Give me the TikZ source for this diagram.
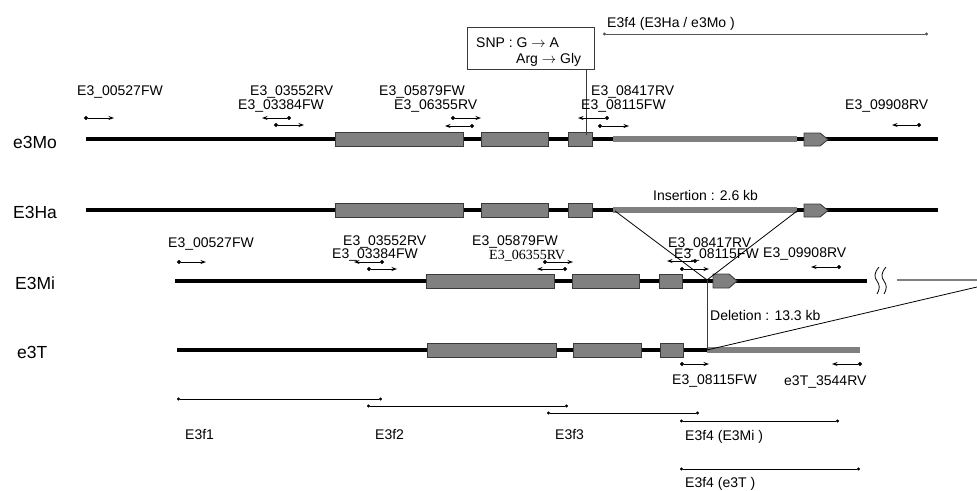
\documentclass[tikz,border=0pt]{standalone}
\usepackage{fontspec}
\setmainfont{Liberation Sans}
\newfontfamily\serifalt{Liberation Serif}
\usetikzlibrary{arrows.meta}

\definecolor{exgray}{HTML}{808080}
\definecolor{exedge}{HTML}{3A3A3A}
\definecolor{ruleg}{HTML}{555555}

\tikzset{
 lbl/.style={anchor=base west, inner sep=0pt, font=\fontsize{14}{16}\selectfont},
 rowname/.style={anchor=base west, inner sep=0pt, font=\fontsize{17.5}{20}\selectfont},
 backbone/.style={line width=4pt, black},
 insbar/.style={line width=6pt, exgray},
 exon/.style={fill=exgray, draw=exedge, line width=0.9pt},
 fwprimer/.style={line width=0.9pt, {Circle[length=4pt]}-{Stealth[length=5.5pt,width=4pt]}},
 rvprimer/.style={line width=0.9pt, {Stealth[length=5.5pt,width=4pt]}-{Circle[length=4pt]}},
 rangeline/.style={line width=0.9pt, {Circle[length=3pt]}-{Circle[length=3pt]}},
 fineline/.style={line width=0.8pt},
}

\begin{document}
\begin{tikzpicture}[x=1pt,y=-1pt]
\useasboundingbox (0,0) rectangle (977,490);

% ---------- row names
\node[rowname] (nMo) at (13,148) {e3Mo};
\node[rowname] (nHa) at (13,218) {E3Ha};
\node[rowname] (nMi) at (15,289) {E3Mi};
\node[rowname] (nT)  at (17,358) {e3T};

% ---------- e3Mo
\draw[backbone] (86,139) -- (938,139);
\draw[insbar] (613,139) -- (797,139);
\draw[exon] (335,132) rectangle (463,146);
\draw[exon] (481,132) rectangle (548,146);
\draw[exon] (568,132) rectangle (592,146);
\draw[exon] (804,133) -- (820,133) -- (828,139.5) -- (820,146) -- (804,146) -- cycle;

% ---------- E3Ha
\draw[backbone] (86,210) -- (938,210);
\draw[insbar] (613,210) -- (797,210);
\draw[exon] (335,203) rectangle (463,217);
\draw[exon] (481,203) rectangle (548,217);
\draw[exon] (568,203) rectangle (592,217);
\draw[exon] (804,204) -- (820,204) -- (828,210.5) -- (820,217) -- (804,217) -- cycle;

% ---------- E3Mi
\draw[backbone] (175,281) -- (867,281);
\draw[exon] (426,274) rectangle (554,288);
\draw[exon] (572,274) rectangle (639,288);
\draw[exon] (659,274) rectangle (682,288);
\draw[exon] (713,274) -- (729,274) -- (737,281) -- (729,288) -- (713,288) -- cycle;

% break marks and continuation
\draw[fineline] (879,267) .. controls (874,273) and (874,277) .. (877,281) .. controls (880,285) and (880,289) .. (877,294);
\draw[fineline] (886,267) .. controls (881,273) and (881,277) .. (884,281) .. controls (887,285) and (887,289) .. (884,294);
\draw[line width=1.6pt, exgray] (897,280) -- (977,280);

% ---------- e3T
\draw[backbone] (177,350) -- (707,350);
\draw[insbar] (707,350) -- (860,350);
\draw[exon] (427,343) rectangle (556,357);
\draw[exon] (573,343) rectangle (641,357);
\draw[exon] (660,343) rectangle (683,357);

% ---------- insertion / deletion lines
\coordinate (apex) at (707,280);
\coordinate (delstart) at (707,350);
\draw[fineline] (615,211) -- (apex) -- (797,211);
\draw[fineline, exedge] (apex) -- (delstart);
\draw[fineline] (delstart) -- (977,287);
\node[lbl] (ins) at (653,200) {Insertion : 2.6 kb};
\node[lbl] (del) at (710,320) {Deletion : 13.3 kb};

% ---------- SNP box
\draw[line width=0.9pt, exedge] (467,27) rectangle (594,69);
\node[lbl] (snp1) at (476,47) {SNP : G $\rightarrow$ A};
\node[lbl] (snp2) at (516,63) {Arg $\rightarrow$ Gly};
\draw[line width=0.9pt, exedge] (586,69) -- (586,135);

% ---------- top range
\draw[rangeline, ruleg] (603,34) -- (928,34);
\node[lbl] (f4top) at (607,27) {E3f4 (E3Ha / e3Mo )};

% ---------- e3Mo primers
\node[lbl] (p1) at (77,95) {E3\_00527FW};
\node[lbl] (p2) at (250,95.5) {E3\_03552RV};
\node[lbl] (p3) at (238,109) {E3\_03384FW};
\node[lbl] (p4) at (379,95) {E3\_05879FW};
\node[lbl] (p5) at (394,109) {E3\_06355RV};
\node[lbl] (p6) at (591,95) {E3\_08417RV};
\node[lbl] (p7) at (581,109) {E3\_08115FW};
\node[lbl] (p8) at (845,109) {E3\_09908RV};
\draw[fwprimer] (84,118) -- (114,118);
\draw[rvprimer] (262,118) -- (291,118);
\draw[fwprimer] (274,125) -- (304,125);
\draw[fwprimer] (451,118) -- (481,118);
\draw[rvprimer] (445,126) -- (474,126);
\draw[rvprimer] (578,118) -- (609,118);
\draw[fwprimer] (598,126) -- (629,126);
\draw[rvprimer] (892,125) -- (921,125);

% ---------- E3Mi primers
\node[lbl] (q1) at (168,247) {E3\_00527FW};
\node[lbl] (q2) at (343,245) {E3\_03552RV};
\node[lbl] (q3) at (332,258) {E3\_03384FW};
\node[lbl] (q4) at (472,245) {E3\_05879FW};
\node[lbl, font=\serifalt\fontsize{14}{16}\selectfont] (q5) at (489,259) {E3\_06355RV};
\node[lbl] (q6) at (668,247) {E3\_08417RV};
\node[lbl] (q7) at (674,258) {E3\_08115FW};
\node[lbl] (q8) at (763,257) {E3\_09908RV};
\draw[fwprimer] (177,262) -- (206,262);
\draw[rvprimer] (354,262) -- (384,262);
\draw[fwprimer] (367,269) -- (397,269);
\draw[fwprimer] (543,262) -- (573,262);
\draw[rvprimer] (537,269) -- (567,269);
\draw[rvprimer] (667,261) -- (697,261);
\draw[fwprimer] (680,269) -- (709,269);
\draw[rvprimer] (811,267) -- (841,267);

% ---------- e3T primers
\draw[fwprimer] (680,364) -- (709,364);
\draw[rvprimer] (832,364) -- (862,364);
\node[lbl] (r1) at (672,384) {E3\_08115FW};
\node[lbl] (r2) at (784,385) {e3T\_3544RV};

% ---------- fragments
\draw[rangeline] (177,399) -- (382,399);
\draw[rangeline] (367,406) -- (568,406);
\draw[rangeline] (547,413) -- (699,413);
\draw[rangeline] (680,421) -- (839,421);
\draw[rangeline] (680,469) -- (860,469);
\node[lbl] (f1) at (185,439) {E3f1};
\node[lbl] (f2) at (375,439) {E3f2};
\node[lbl] (f3) at (555,439) {E3f3};
\node[lbl] (f4a) at (685,440) {E3f4 (E3Mi )};
\node[lbl] (f4b) at (685,487) {E3f4 (e3T )};
\end{tikzpicture}
\end{document}
